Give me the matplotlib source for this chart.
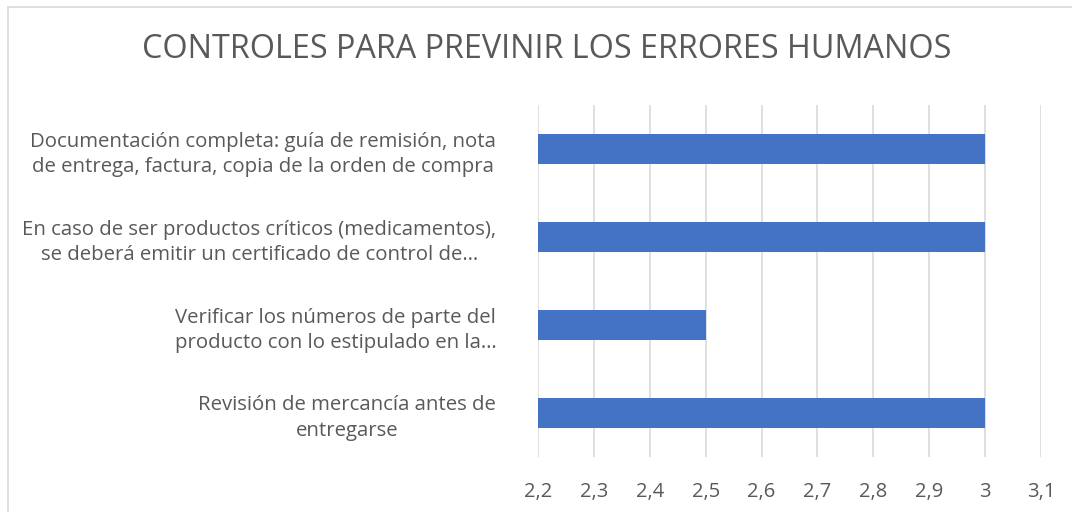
import matplotlib
matplotlib.use('Agg')
import matplotlib.pyplot as plt
from matplotlib.patches import Rectangle
from matplotlib.ticker import FuncFormatter

categories = [
    'Revisión de mercancía antes de\nentregarse',
    'Verificar los números de parte del\nproducto con lo estipulado en la…',
    'En caso de ser productos críticos (medicamentos),\nse deberá emitir un certificado de control de…',
    'Documentación completa: guía de remisión, nota\nde entrega, factura, copia de la orden de compra',
]
values = [3, 2.5, 3, 3]
base = 2.2
ticks = [2.2, 2.3, 2.4, 2.5, 2.6, 2.7, 2.8, 2.9, 3.0, 3.1]

text_col = '#595959'
plt.rcParams['font.family'] = ['Open Sans', 'DejaVu Sans']

fig = plt.figure(figsize=(10.72, 5.12), dpi=100)
fig.patches.append(Rectangle((8 / 1072, -0.1), 1.2, 1 - 7 / 512 + 0.1, transform=fig.transFigure,
                             fill=False, edgecolor='#d9d9d9', linewidth=1.2))
ax = fig.add_axes([538 / 1072, 1 - 457 / 512, (1041 - 538) / 1072, (457 - 105) / 512])

ypos = list(range(len(categories)))
ax.barh(ypos, [v - base for v in values], left=base, height=0.34, color='#4472c4', zorder=3)
ax.set_xlim(2.2, 3.1)
ax.set_ylim(-0.5, len(categories) - 0.5)
ax.set_xticks(ticks)
ax.xaxis.set_major_formatter(FuncFormatter(lambda v, p: ('%g' % round(v, 1)).replace('.', ',')))
ax.grid(axis='x', color='#d9d9d9', linewidth=1.2, zorder=0)
for s in ax.spines.values():
    s.set_visible(False)
ax.tick_params(axis='x', length=0, pad=18, labelsize=14.5, labelcolor=text_col)
ax.set_yticks(ypos)
ax.set_yticklabels(categories, multialignment='center', linespacing=1.35)
ax.tick_params(axis='y', length=0, pad=30, labelsize=14.7, labelcolor=text_col)

fig.text(0.51, 1 - 50 / 512, 'CONTROLES PARA PREVINIR LOS ERRORES HUMANOS', ha='center', va='center',
         fontsize=23.3, color=text_col)

fig.savefig('out.png', dpi=100)
